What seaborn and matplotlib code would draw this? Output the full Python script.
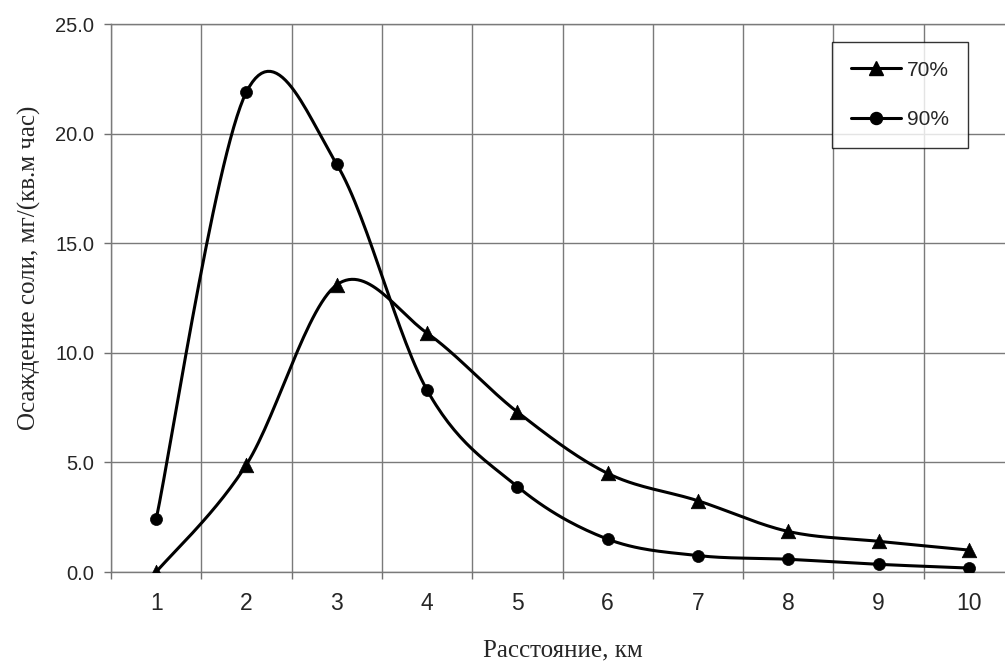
import numpy as np
import pandas as pd
import matplotlib
matplotlib.use("Agg")
import matplotlib.pyplot as plt
from matplotlib.lines import Line2D
from matplotlib.ticker import FixedLocator, FormatStrFormatter
import seaborn as sns

# Data
distance = [1, 2, 3, 4, 5, 6, 7, 8, 9, 10]
dep_70 = [0.0, 4.9, 13.1, 10.9, 7.3, 4.5, 3.25, 1.85, 1.4, 1.0]
dep_90 = [2.4, 21.9, 18.6, 8.3, 3.9, 1.5, 0.75, 0.58, 0.35, 0.18]
series_names = ["70%", "90%"]
series_markers = ["^", "o"]


def smooth_curve(x, y, steps=30):
    # Excel-style smoothed line (Catmull-Rom through the data points)
    x = np.asarray(x, float)
    y = np.asarray(y, float)
    px = np.concatenate([[x[0]], x, [x[-1]]])
    py = np.concatenate([[y[0]], y, [y[-1]]])
    xs, ys = [], []
    for i in range(1, len(px) - 2):
        t = np.linspace(0, 1, steps, endpoint=False)
        h00 = 2 * t**3 - 3 * t**2 + 1
        h10 = t**3 - 2 * t**2 + t
        h01 = -2 * t**3 + 3 * t**2
        h11 = t**3 - t**2
        mx0, mx1 = (px[i + 1] - px[i - 1]) / 2, (px[i + 2] - px[i]) / 2
        my0, my1 = (py[i + 1] - py[i - 1]) / 2, (py[i + 2] - py[i]) / 2
        xs.append(h00 * px[i] + h10 * mx0 + h01 * px[i + 1] + h11 * mx1)
        ys.append(h00 * py[i] + h10 * my0 + h01 * py[i + 1] + h11 * my1)
    xs.append([x[-1]])
    ys.append([y[-1]])
    return np.concatenate(xs), np.concatenate(ys)


sns.set_style("white")
plt.rcParams["font.family"] = ["Liberation Sans", "DejaVu Sans"]
serif = ["Liberation Serif", "DejaVu Serif"]

fig = plt.figure(figsize=(10.05, 6.61), dpi=100)
ax = fig.add_axes([111 / 1005, 89 / 661, 903 / 1005, 548 / 661])

marker_size = {"^": 110, "o": 75}
handles = []
for name, vals, mk in zip(series_names, [dep_70, dep_90], series_markers):
    sx, sy = smooth_curve(distance, vals)
    sns.lineplot(x=sx, y=sy, ax=ax, color="black", linewidth=2.2, sort=False,
                 estimator=None, legend=False)
    sns.scatterplot(x=distance, y=vals, ax=ax, marker=mk, color="black",
                    s=marker_size[mk], edgecolor="black", linewidth=0.5,
                    zorder=5, legend=False)
    handles.append(Line2D([], [], color="black", linewidth=2.2, marker=mk,
                          markersize=np.sqrt(marker_size[mk]), label=name))

ax.set_xlim(0.5, 10.5)
ax.set_ylim(0, 25)

ax.xaxis.set_major_locator(FixedLocator(distance))
ax.xaxis.set_minor_locator(FixedLocator(np.arange(0.5, 11, 1)))
ax.set_yticks(np.arange(0, 26, 5))
ax.yaxis.set_major_formatter(FormatStrFormatter("%.1f"))

ax.tick_params(axis="x", which="major", length=0, pad=14.5, labelsize=16.5)
ax.tick_params(axis="x", which="minor", length=5, width=1, color="#707070",
               direction="out", bottom=True)
ax.tick_params(axis="y", which="major", length=5, width=1, color="#707070",
               direction="out", left=True, pad=7, labelsize=14.5)

ax.grid(False)
ax.grid(True, axis="x", which="minor", color="#7a7a7a", linewidth=1)
ax.grid(True, axis="y", which="major", color="#7a7a7a", linewidth=1)
for side in ["left", "bottom", "top", "right"]:
    ax.spines[side].set_color("#7a7a7a")
    ax.spines[side].set_linewidth(1)

ax.set_xlabel("Расстояние, км", family=serif, fontsize=18)
ax.set_ylabel("Осаждение соли, мг/(кв.м час)", family=serif, fontsize=18)
ax.xaxis.set_label_coords(0.5, -0.124)
ax.yaxis.set_label_coords(-0.077, 0.555)

leg = fig.legend(handles=handles, loc="upper left",
                 bbox_to_anchor=(832 / 1005, 1 - 42 / 661),
                 frameon=True, fancybox=False, edgecolor="black",
                 fontsize=15, handlelength=2.4, labelspacing=1.45,
                 borderpad=0.9, handletextpad=0.3, borderaxespad=0)
leg.get_frame().set_linewidth(1)

fig.savefig("out.png", dpi=100)
